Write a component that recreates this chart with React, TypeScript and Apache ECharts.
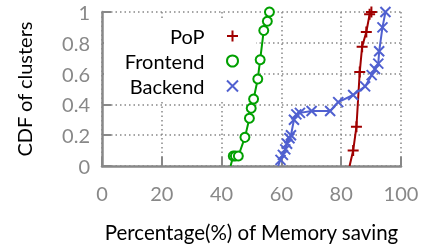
import React, { useEffect, useRef } from 'react';
import * as echarts from 'echarts';

const seriesNames = ['PoP', 'Frontend', 'Backend'];
const seriesColors = ['#A00000', '#00A000', '#5060D0'];

// [memory saving %, CDF]
const popPoints: number[][] = [
  [82.8, 0], [84.0, 0.1], [85.1, 0.255], [86.2, 0.61], [87.0, 0.775],
  [88.4, 0.87], [89.5, 0.985], [90.1, 1.0],
];
const frontendPoints: number[][] = [
  [43.0, 0], [43.9, 0.065], [44.6, 0.065], [45.6, 0.065], [47.8, 0.186],
  [49.3, 0.31], [49.9, 0.375], [50.7, 0.435], [52.1, 0.565], [52.9, 0.69],
  [54.1, 0.88], [55.3, 0.94], [56.0, 1.0],
];
const backendPoints: number[][] = [
  [58.9, 0], [59.7, 0.04], [60.5, 0.072], [61.3, 0.108], [61.9, 0.145],
  [62.7, 0.18], [63.2, 0.2], [64.2, 0.3], [65.0, 0.335], [66.2, 0.345],
  [70.1, 0.357], [76.3, 0.357], [79.0, 0.415], [84.0, 0.461], [88.0, 0.517],
  [90.2, 0.59], [91.3, 0.63], [92.4, 0.665], [92.7, 0.745], [93.8, 0.9],
  [94.8, 1.0],
];
// first point of each curve is drawn without a marker
const noMarkerIndex = 0;

const xTickValues = [0, 20, 40, 60, 80, 100];
const yTickLabels = ['0', '0.2', '0.4', '0.6', '0.8', '1'];

const xAxisTitle = 'Percentage(%) of Memory saving';
const yAxisTitle = 'CDF of clusters';

const plusPath = 'path://M0,5L10,5M5,0L5,10';
const crossPath = 'path://M0,0L10,10M10,0L0,10';

const FONT = 'Lato';

function toData(points: number[][]) {
  return points.map((p, i) =>
    i === noMarkerIndex ? { value: p, symbol: 'none' } : { value: p }
  );
}

export default function App() {
  const ref = useRef<HTMLDivElement>(null);
  useEffect(() => {
    if (!ref.current) return;
    const chart = echarts.init(ref.current, undefined, { renderer: 'svg' });
    const gray = '#888888';
    const symbols = [plusPath, 'emptyCircle', crossPath];
    const sizes = [11, 9, 10];
    const allPoints = [popPoints, frontendPoints, backendPoints];
    chart.setOption({
      animation: false,
      textStyle: { fontFamily: FONT },
      grid: { left: 102, right: 27, top: 12, bottom: 81 },
      xAxis: {
        type: 'value',
        min: 0,
        max: 100,
        interval: 20,
        name: xAxisTitle,
        nameLocation: 'middle',
        nameGap: 55,
        nameTextStyle: { color: '#000', fontSize: 20.5, fontFamily: FONT },
        axisLine: { show: true, lineStyle: { color: gray, width: 2.5 } },
        axisTick: { show: true, inside: true, length: 9, lineStyle: { color: gray, width: 2 } },
        axisLabel: {
          color: gray,
          fontSize: 20,
          margin: 17,
          fontFamily: FONT,
          formatter: (v: number) => (xTickValues.includes(v) ? String(v) : ''),
        },
        splitLine: { show: true, lineStyle: { color: gray, width: 1.5, type: [1.5, 3] } },
      },
      yAxis: {
        type: 'value',
        min: 0,
        max: 1,
        interval: 0.2,
        name: yAxisTitle,
        nameLocation: 'middle',
        nameGap: 68,
        nameTextStyle: { color: '#000', fontSize: 20, fontFamily: FONT },
        axisLine: { show: true, lineStyle: { color: gray, width: 2.5 } },
        axisTick: { show: true, inside: true, length: 9, lineStyle: { color: gray, width: 2 } },
        axisLabel: {
          color: gray,
          fontSize: 20,
          margin: 12,
          fontFamily: FONT,
          formatter: (v: number) => yTickLabels[Math.round(v * 5)] ?? '',
        },
        splitLine: { show: true, lineStyle: { color: gray, width: 1.5, type: [1.5, 3] } },
      },
      graphic: [
        {
          type: 'rect',
          z: 1,
          shape: { x: 104, y: 18, width: 152, height: 84 },
          style: { fill: '#ffffff' },
          silent: true,
        },
      ],
      legend: {
        orient: 'vertical',
        align: 'right',
        right: 189,
        top: 24,
        padding: 0,
        itemGap: 1,
        itemWidth: 46,
        itemHeight: 11,
        textStyle: { fontSize: 20, lineHeight: 24, color: '#000', fontFamily: FONT },
        data: seriesNames.map((n, i) => ({ name: n, icon: symbols[i] })),
      },
      series: seriesNames.map((n, i) => ({
        name: n,
        type: 'line',
        z: 3,
        data: toData(allPoints[i]),
        symbol: symbols[i],
        symbolSize: sizes[i],
        showAllSymbol: true,
        lineStyle: { color: seriesColors[i], width: 2 },
        itemStyle: {
          color: seriesColors[i],
          borderColor: seriesColors[i],
          borderWidth: 2,
        },
      })),
    });
    return () => chart.dispose();
  }, []);
  return (
    <div
      ref={ref}
      style={{ position: 'fixed', left: 0, top: 0, width: 428, height: 247 }}
    />
  );
}
